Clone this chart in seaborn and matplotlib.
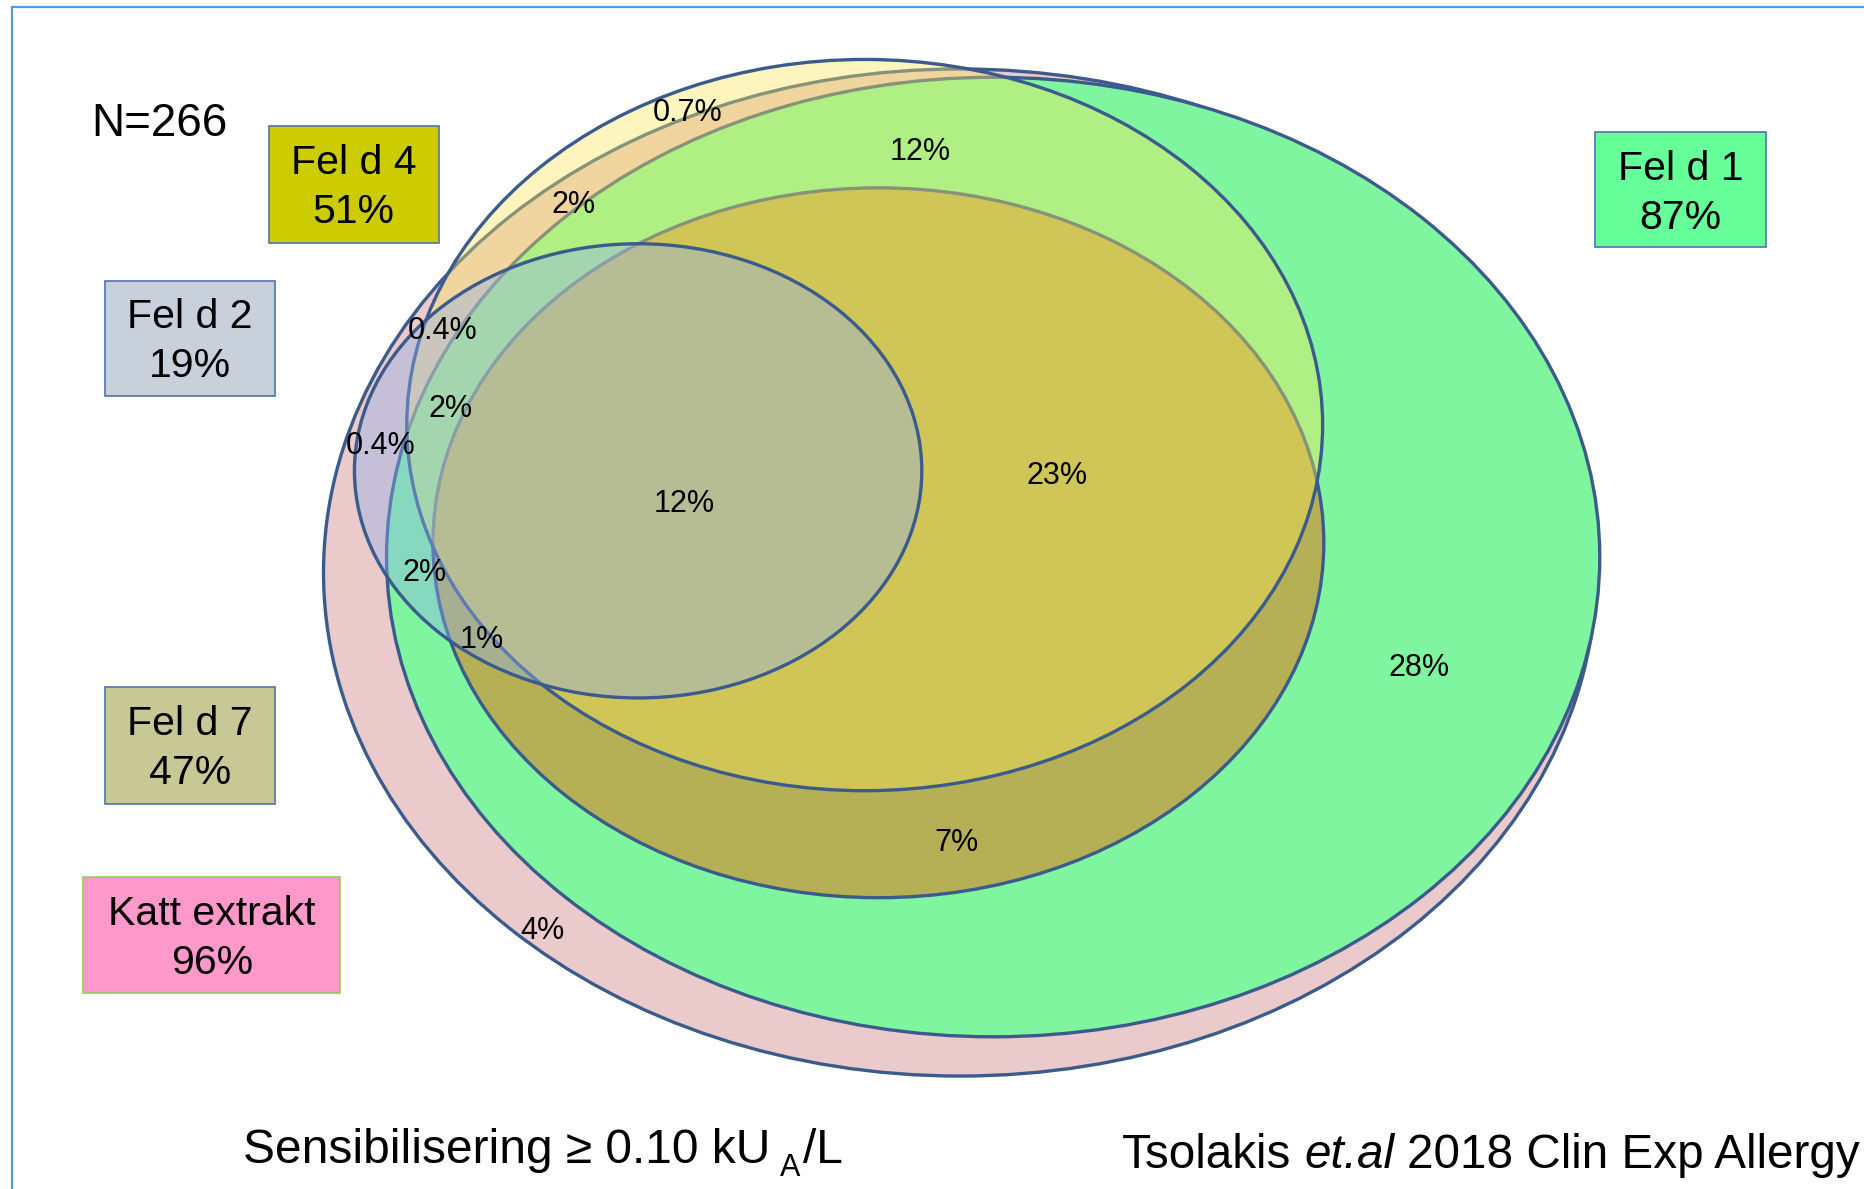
import matplotlib
matplotlib.use("Agg")
import matplotlib.pyplot as plt
from matplotlib.patches import Ellipse, Rectangle
from matplotlib.lines import Line2D
import seaborn as sns

# ---------------- data ----------------
n_total = 266
allergens = ["Fel d 4", "Fel d 2", "Fel d 7", "Katt extrakt", "Fel d 1"]
allergen_pct = [51, 19, 47, 96, 87]
region_pct = [0.7, 12, 2, 0.4, 2, 0.4, 12, 23, 2, 1, 28, 7, 4]
subtitle_main = "Sensibilisering ≥ 0.10 kU"
subtitle_sub = "A"
subtitle_tail = "/L"
citation = ["Tsolakis", "et.al", "2018 Clin Exp Allergy"]

# ---------------- style ----------------
sns.set_theme(style="white")
plt.rcParams['font.family'] = ['Liberation Sans', 'DejaVu Sans']
plt.rcParams['text.color'] = 'black'

W, H = 1568, 1000
fig = plt.figure(figsize=(18.65, 11.89), dpi=100)
ax = fig.add_axes([0, 0, 1, 1])
ax.set_xlim(0, W)
ax.set_ylim(H, 0)
ax.axis('off')
scale = 1865 / W

EDGE = '#3b5b8c'
LW = 2.4

# ellipses: key -> (cx, cy, w, h, face, z)
ellipse_layout = {
    "Katt extrakt": (807, 481.5, 1070, 847, (234/255, 202/255, 202/255, 1.0), 1),
    "Fel d 1": (835, 468.5, 1020, 807, (128/255, 245/255, 160/255, 1.0), 2),
    "Fel d 7": (738.5, 456.5, 749, 597, (181/255, 176/255, 85/255, 1.0), 3),
    "Fel d 4": (727, 357.5, 770, 615, (250/255, 232/255, 92/255, 0.40), 4),
    "Fel d 2": (536.5, 396, 477, 382, (145/255, 175/255, 238/255, 0.40), 5),
}
for name in allergens:
    cx, cy, w, h, face, z = ellipse_layout[name]
    ax.add_patch(Ellipse((cx, cy), w, h, facecolor=face, edgecolor=EDGE,
                         linewidth=LW, zorder=z))

# region labels
region_pos = [(578, 95), (774, 128), (482, 172), (372, 278), (379, 344),
              (320, 375), (575, 424), (889, 400), (357, 482), (405, 538),
              (1193, 562), (804, 709), (456, 783)]
for (x, y), v in zip(region_pos, region_pct):
    ax.text(x, y, f"{v:g}%", ha='center', va='center', fontsize=22,
            color='black', zorder=10)

# legend boxes
box_layout = {
    "Fel d 4": (226, 106, 369, 204, '#cccc00', '#4f74ab'),
    "Fel d 2": (88, 236, 231, 333, '#c8d0dc', '#4f74ab'),
    "Fel d 7": (88, 578, 231, 676, '#c8c896', '#4f74ab'),
    "Katt extrakt": (70, 738, 286, 835, '#ff99cc', '#92d050'),
    "Fel d 1": (1341, 111, 1485, 208, '#66ff99', '#4f74ab'),
}
for name, pct in zip(allergens, allergen_pct):
    x0, y0, x1, y1, fc, ec = box_layout[name]
    ax.add_patch(Rectangle((x0, y0), x1 - x0, y1 - y0, facecolor=fc,
                           edgecolor=ec, linewidth=1.2, zorder=6))
    xc = (x0 + x1) / 2
    ax.text(xc, y0 + 31, name, ha='center', va='center', fontsize=29.5,
            color='black', zorder=7)
    ax.text(xc, y0 + 72, f"{pct}%", ha='center', va='center', fontsize=29.5,
            color='black', zorder=7)

ax.text(77, 104, f"N={n_total}", ha='left', va='center', fontsize=33, color='black')

# frame lines
ax.add_line(Line2D([10, 10], [H, 5.5], color='#5b9bd5', lw=1.6, zorder=0))
ax.add_line(Line2D([10, W], [5.5, 5.5], color='#5b9bd5', lw=1.6, zorder=0))

# bottom texts with measured runs
renderer = fig.canvas.get_renderer()

def run(x, y, pieces):
    for s, kw, gap, dy in pieces:
        t = ax.text(x, y + dy, s, ha='left', va='baseline', color='black', **kw)
        bb = t.get_window_extent(renderer)
        x += bb.width / scale + gap
    return x

run(204, 978, [(subtitle_main, dict(fontsize=34.5), 8, 0),
               (subtitle_sub, dict(fontsize=22), 3, 11),
               (subtitle_tail, dict(fontsize=34.5), 0, 0)])

run(943, 982, [(citation[0], dict(fontsize=34.3), 11, 0),
               (citation[1], dict(fontsize=34.3, style='italic'), 11, 0),
               (citation[2], dict(fontsize=34.3), 0, 0)])

fig.savefig("out.png", dpi=100, facecolor='white')
